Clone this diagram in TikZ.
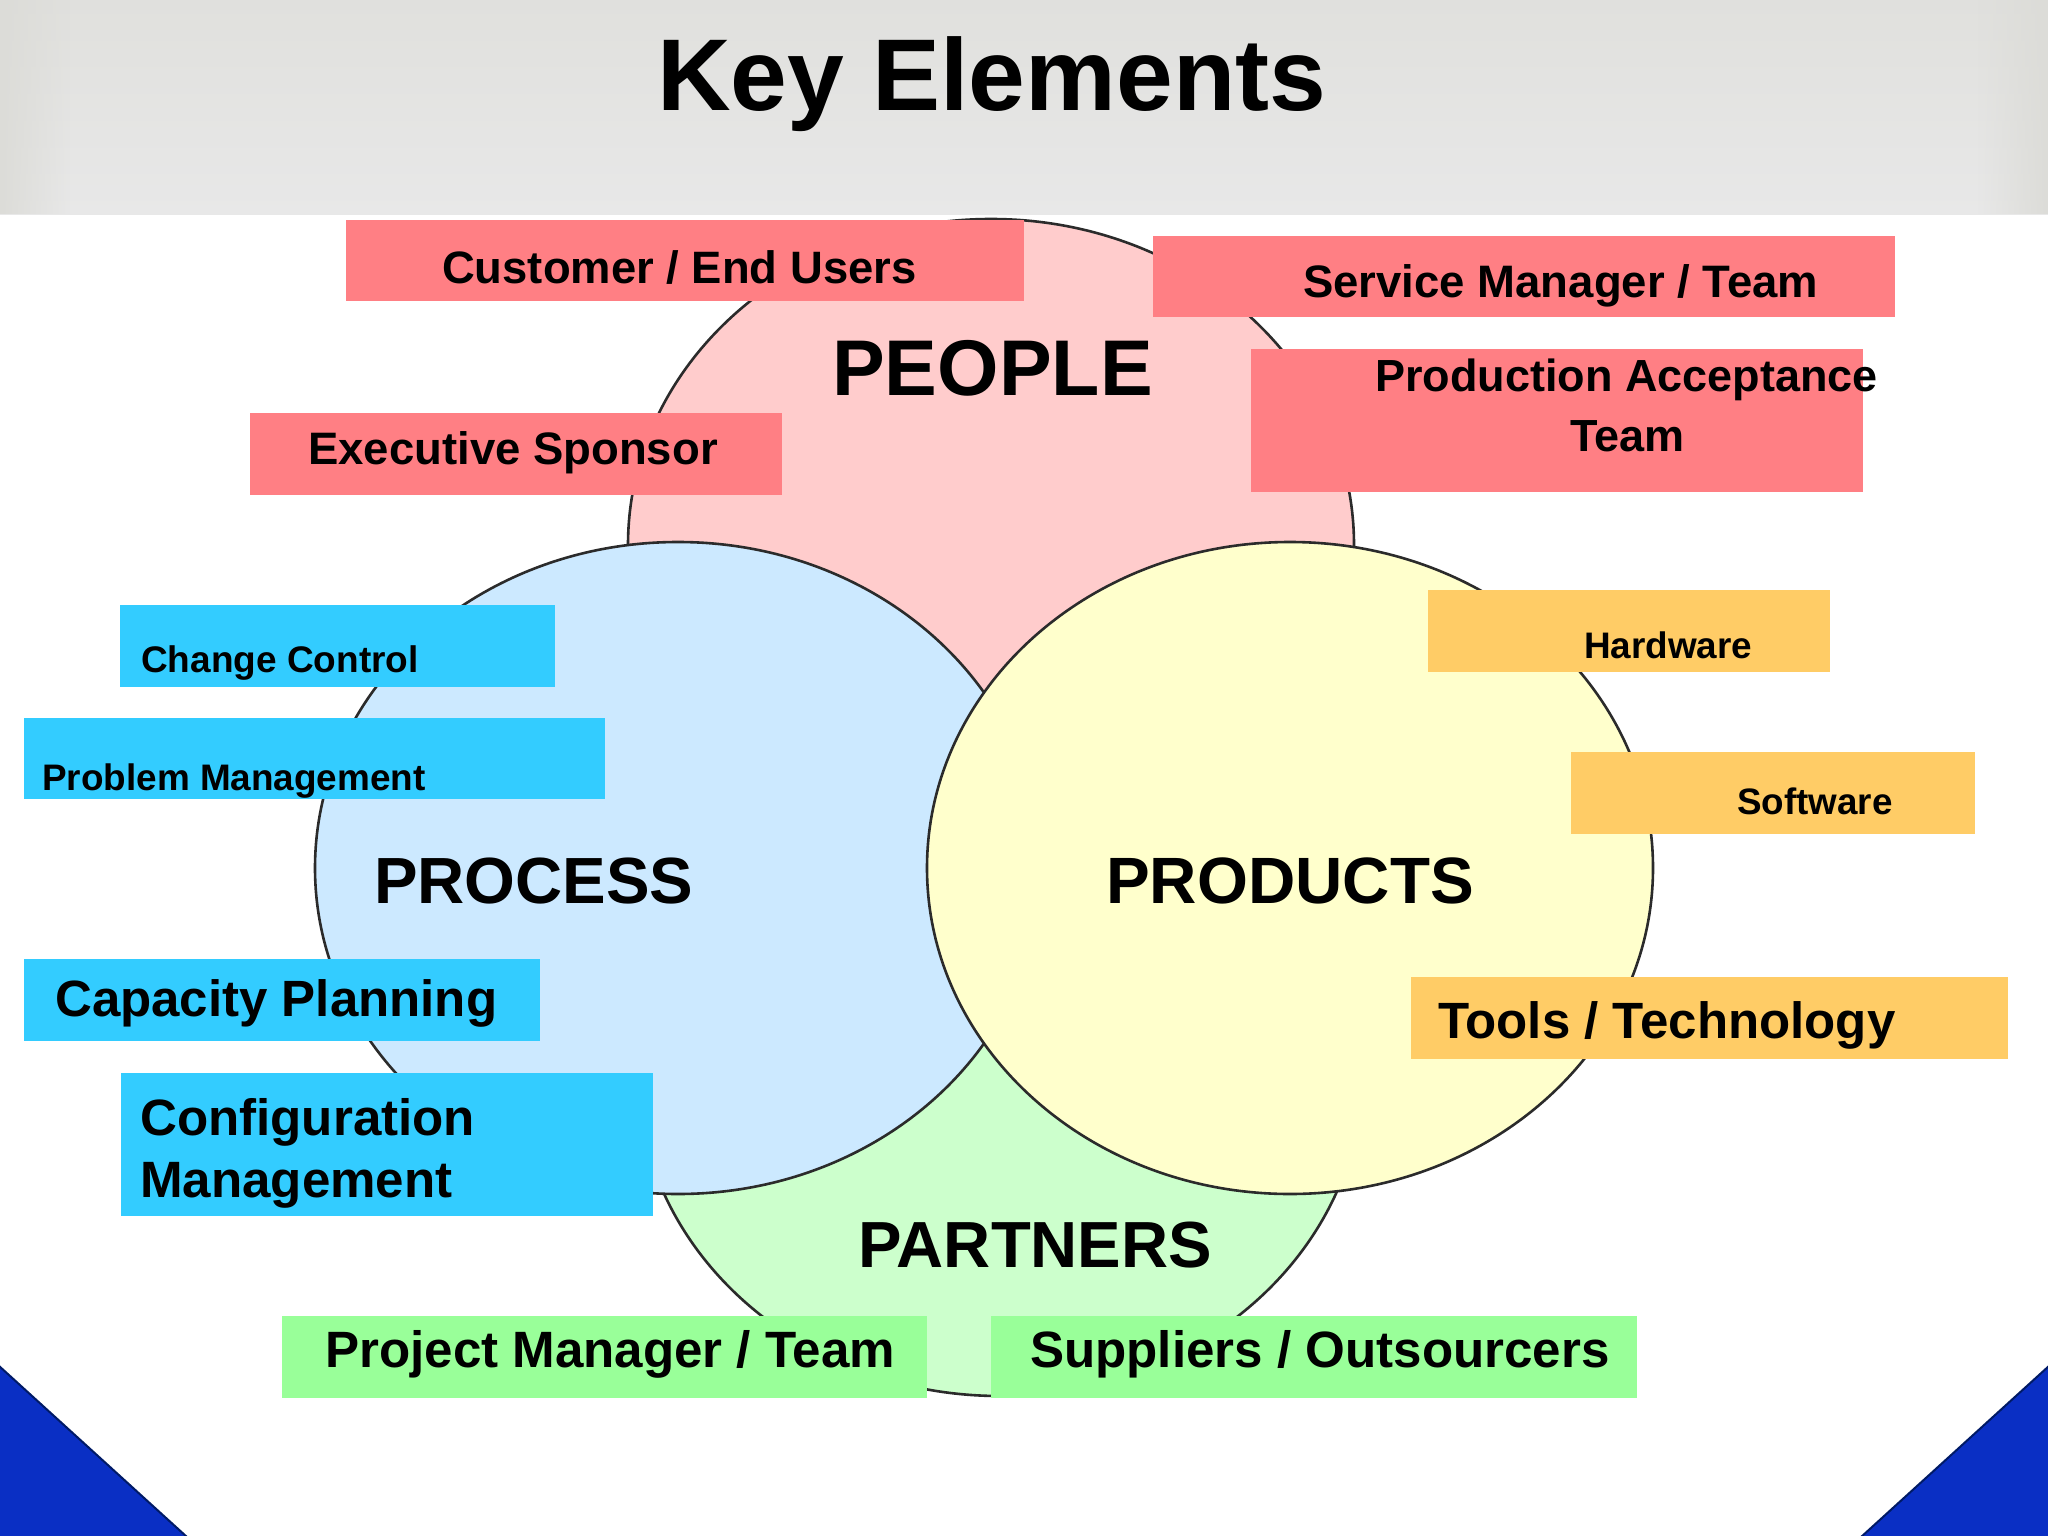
\documentclass[tikz,border=0pt]{standalone}
\usepackage{fontspec}
\setmainfont{Liberation Sans}
\usepackage{tikz}
\usetikzlibrary{shapes.geometric, fadings}
\definecolor{headtop}{HTML}{E0E0DD}
\definecolor{headlow}{HTML}{E8E8E8}
\definecolor{headside}{HTML}{DCDCD8}
\definecolor{peoplefill}{HTML}{FFCCCC}
\definecolor{peoplebox}{HTML}{FF7F84}
\definecolor{processfill}{HTML}{CCE9FF}
\definecolor{processbox}{HTML}{33CCFF}
\definecolor{productfill}{HTML}{FFFFCC}
\definecolor{productbox}{HTML}{FFCC66}
\definecolor{partnerfill}{HTML}{CCFFCC}
\definecolor{partnerbox}{HTML}{99FF99}
\definecolor{cornerblue}{HTML}{0A2FC4}
\definecolor{cornerline}{HTML}{001A66}
\definecolor{ringline}{HTML}{2B2B2B}
\tikzset{
   ring/.style={ellipse, draw=ringline, line width=2.6pt, inner sep=0pt, minimum width=726pt, minimum height=652pt},
   tag/.style={anchor=north west, inner sep=0pt, outer sep=0pt},
   txt/.style={anchor=base west, inner sep=0pt, font=\bfseries\fontsize{#1}{#1}\selectfont},
}
\begin{document}
\begin{tikzpicture}[x=1pt, y=-1pt]
   \useasboundingbox (0,0) rectangle (2048,1536);
   \shade[top color=headtop, bottom color=headlow] (0,0) rectangle (2048,214);
   \fill[headside, path fading=east] (0,0) rectangle (70,214);
   \fill[headside, path fading=west] (1978,0) rectangle (2048,214);
   \node[txt=102] (title) at (657,111) {Key Elements};

   % the four rings, products last
   \node[ring, fill=peoplefill] (people) at (991,545) {};
   \node[ring, fill=partnerfill] (partners) at (1000,1070) {};
   \node[ring, fill=processfill] (process) at (678,868) {};
   \node[ring, fill=productfill] (products) at (1290,868) {};
   \node[txt=79] (peopletext) at (832,395) {PEOPLE};
   \node[txt=65.3] (processtext) at (374,903) {PROCESS};
   \node[txt=65.5] (productstext) at (1106,903) {PRODUCTS};
   \node[txt=65.2] (partnerstext) at (858,1267) {PARTNERS};

   % people
   \node[tag, fill=peoplebox, minimum width=678pt, minimum height=81pt] (customer) at (346,220) {};
   \node[tag, fill=peoplebox, minimum width=532pt, minimum height=82pt] (executive) at (250,413) {};
   \node[tag, fill=peoplebox, minimum width=742pt, minimum height=81pt] (service) at (1153,236) {};
   \node[tag, fill=peoplebox, minimum width=612pt, minimum height=143pt] (production) at (1251,349) {};
   \node[txt=45.4] (customertext) at (442,283) {Customer / End Users};
   \node[txt=45.5] (executivetext) at (308,464) {Executive Sponsor};
   \node[txt=45.5] (servicetext) at (1303,297) {Service Manager / Team};
   \node[txt=45] (productiontext) at (1375,391) {Production Acceptance};
   \node[txt=45] (teamtext) at (1570,451) {Team};

   % process
   \node[tag, fill=processbox, minimum width=435pt, minimum height=82pt] (change) at (120,605) {};
   \node[tag, fill=processbox, minimum width=581pt, minimum height=81pt] (problem) at (24,718) {};
   \node[tag, fill=processbox, minimum width=516pt, minimum height=82pt] (capacity) at (24,959) {};
   \node[tag, fill=processbox, minimum width=532pt, minimum height=143pt] (configuration) at (121,1073) {};
   \node[txt=37] (changetext) at (141,672) {Change Control};
   \node[txt=36.9] (problemtext) at (42,790) {Problem Management};
   \node[txt=51] (capacitytext) at (55,1016) {Capacity Planning};
   \node[txt=51.1] (configurationtext) at (140,1135) {Configuration};
   \node[txt=51.1] (managementtext) at (140,1197) {Management};

   % products
   \node[tag, fill=productbox, minimum width=402pt, minimum height=82pt] (hardware) at (1428,590) {};
   \node[tag, fill=productbox, minimum width=404pt, minimum height=82pt] (software) at (1571,752) {};
   \node[tag, fill=productbox, minimum width=597pt, minimum height=82pt] (tools) at (1411,977) {};
   \node[txt=36.9] (hardwaretext) at (1584,658) {Hardware};
   \node[txt=36.8] (softwaretext) at (1737,814) {Software};
   \node[txt=51] (toolstext) at (1438,1038) {Tools / Technology};

   % partners
   \node[tag, fill=partnerbox, minimum width=645pt, minimum height=82pt] (project) at (282,1316) {};
   \node[tag, fill=partnerbox, minimum width=646pt, minimum height=82pt] (suppliers) at (991,1316) {};
   \node[txt=51.1] (projecttext) at (325,1367) {Project Manager / Team};
   \node[txt=51.1] (supplierstext) at (1030,1367) {Suppliers / Outsourcers};

   % corners
   \draw[cornerline, fill=cornerblue, line width=2pt] (-2,1365) -- (187,1537) -- (-2,1537) -- cycle;
   \draw[cornerline, fill=cornerblue, line width=2pt] (2050,1365) -- (1861,1537) -- (2050,1537) -- cycle;
\end{tikzpicture}
\end{document}
